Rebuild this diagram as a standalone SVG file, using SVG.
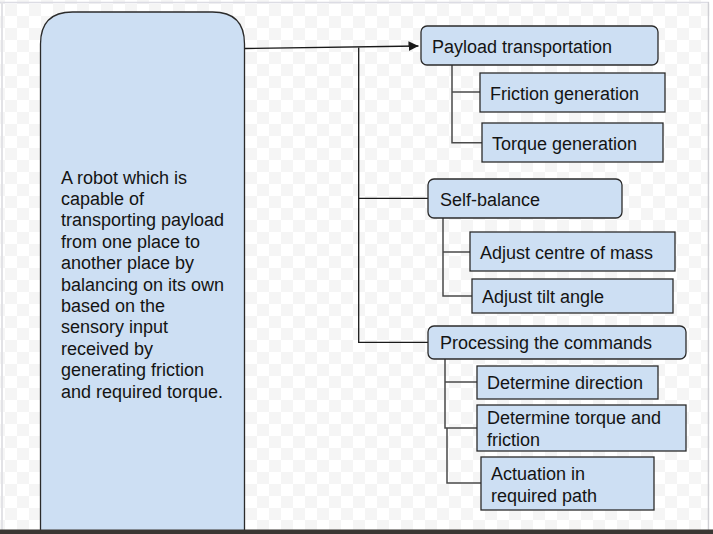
<svg xmlns="http://www.w3.org/2000/svg" width="713" height="534" viewBox="0 0 713 534">
  <defs>
    <pattern id="checker" x="5" y="4" width="24" height="24" patternUnits="userSpaceOnUse">
      <rect width="24" height="24" fill="#ffffff"/>
      <rect width="12" height="12" fill="#f5f5f5"/>
      <rect x="12" y="12" width="12" height="12" fill="#f5f5f5"/>
    </pattern>
    <marker id="arrow" viewBox="0 0 10 10" refX="10" refY="5" markerWidth="10" markerHeight="10" markerUnits="userSpaceOnUse" orient="auto">
      <path d="M0,0 L10,5 L0,10 z" fill="#1a1a1a"/>
    </marker>
  </defs>
  <style>
    .box { fill: #cddff3; stroke: #2b2b2b; stroke-width: 1.3; }
    .lbl { font-family: "Liberation Sans", Arial, sans-serif; font-size: 18px; fill: #141414; }
    .trunk { fill: none; stroke: #1a1a1a; stroke-width: 1.3; }
    .branch { fill: none; stroke: #4a4a4a; stroke-width: 1.5; }
  </style>

  <!-- canvas -->
  <rect width="713" height="534" fill="url(#checker)"/>
  <line x1="0" y1="2.5" x2="709" y2="2.5" stroke="#dcdce4" stroke-width="1.5"/>
  <line x1="2" y1="2" x2="2" y2="530" stroke="#e2e2e6" stroke-width="2"/>
  <line x1="708.5" y1="2" x2="708.5" y2="530" stroke="#cfcfd4" stroke-width="1.5"/>
  <rect x="709.5" y="0" width="4" height="534" fill="#ffffff"/>

  <!-- connectors -->
  <g id="connectors">
    <path class="trunk" d="M245,48.5 L418.5,46" marker-end="url(#arrow)"/>
    <path class="trunk" d="M358.7,47.5 L358.7,342.3 L428,342.3"/>
    <path class="trunk" d="M358.7,198.3 L428,198.3"/>
    <path class="branch" d="M452,65 L452,142.7 L482,142.7 M452,92 L480,92"/>
    <path class="branch" d="M443,218 L443,296 L472,296 M443,252 L470,252"/>
    <path class="branch" d="M445,359 L445,428 L477,428 M445,382 L477,382 M447,428 L447,483 L481,483"/>
  </g>

  <!-- main description -->
  <g id="robot">
    <path class="box" d="M40.5,545 L40.5,44 Q40.5,12 72.5,12 L212.5,12 Q244.5,12 244.5,44 L244.5,545"/>
    <text class="lbl" x="61" y="183.5">A robot which is</text>
    <text class="lbl" x="61" y="204.9">capable of</text>
    <text class="lbl" x="61" y="226.3">transporting payload</text>
    <text class="lbl" x="61" y="247.7">from one place to</text>
    <text class="lbl" x="61" y="269.1">another place by</text>
    <text class="lbl" x="61" y="290.5">balancing on its own</text>
    <text class="lbl" x="61" y="311.9">based on the</text>
    <text class="lbl" x="61" y="333.3">sensory input</text>
    <text class="lbl" x="61" y="354.7">received by</text>
    <text class="lbl" x="61" y="376.1">generating friction</text>
    <text class="lbl" x="61" y="397.5">and required torque.</text>
  </g>

  <g id="payload">
    <rect class="box" x="421" y="26" width="237" height="39" rx="6"/>
    <text class="lbl" x="432" y="53">Payload transportation</text>
  </g>
  <g id="friction">
    <rect class="box" x="480" y="73" width="185" height="39"/>
    <text class="lbl" x="490" y="100">Friction generation</text>
  </g>
  <g id="torque">
    <rect class="box" x="482" y="123" width="181" height="39"/>
    <text class="lbl" x="492" y="150">Torque generation</text>
  </g>

  <g id="selfbalance">
    <rect class="box" x="428" y="179" width="194" height="39" rx="6"/>
    <text class="lbl" x="440" y="205.5">Self-balance</text>
  </g>
  <g id="centre">
    <rect class="box" x="470" y="232" width="205" height="39"/>
    <text class="lbl" x="480" y="259">Adjust centre of mass</text>
  </g>
  <g id="tilt">
    <rect class="box" x="472" y="279" width="201" height="34"/>
    <text class="lbl" x="482" y="303">Adjust tilt angle</text>
  </g>

  <g id="processing">
    <rect class="box" x="428" y="326" width="258" height="33" rx="6"/>
    <text class="lbl" x="440" y="349">Processing the commands</text>
  </g>
  <g id="direction">
    <rect class="box" x="477" y="366" width="181" height="33"/>
    <text class="lbl" x="487" y="389">Determine direction</text>
  </g>
  <g id="torquefriction">
    <rect class="box" x="477" y="405" width="209" height="46"/>
    <text class="lbl" x="487" y="424">Determine torque and</text>
    <text class="lbl" x="487" y="445.5">friction</text>
  </g>
  <g id="actuation">
    <rect class="box" x="481" y="457" width="173" height="53"/>
    <text class="lbl" x="491" y="480">Actuation in</text>
    <text class="lbl" x="491" y="501.5">required path</text>
  </g>

  <!-- bottom bar -->
  <rect x="0" y="529.5" width="713" height="4.5" fill="#3a3733"/>
</svg>
